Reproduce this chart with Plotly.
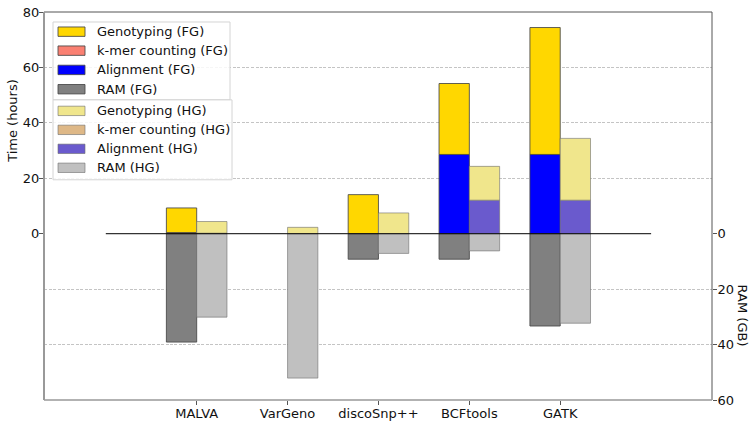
import plotly.graph_objects as go

# ---------------- data ----------------
tools = ["MALVA", "VarGeno", "discoSnp++", "BCFtools", "GATK"]
geno_fg = [8.9, 0, 14.1, 25.6, 45.8]
kmer_fg = [0.4, 0, 0, 0, 0]
align_fg = [0, 0, 0, 28.6, 28.6]
ram_fg = [39.1, 0, 9.2, 9.2, 33.3]
geno_hg = [4.2, 2.3, 7.5, 12.2, 22.3]
kmer_hg = [0.2, 0, 0, 0, 0]
align_hg = [0, 0, 0, 12.1, 12.1]
ram_hg = [30.1, 52.1, 7.1, 6.2, 32.3]

time_ticks = [0, 20, 40, 60, 80]
ram_ticks = [0, 20, 40, 60]

# ---------------- geometry helpers ----------------
W, H = 750, 422
PL, PR, PT, PB = 44, 712, 12, 400.5      # plot area in page pixels
L, T = PL, PT
R = W - PR
B = H - PB
def px(x): return (x - PL) / (PR - PL)
def py(y): return (PB - y) / (PB - PT)

FONT = "DejaVu Sans"
split = 60 / 140

fig = go.Figure()
idx = list(range(len(tools)))

def add_bar(vals, base, color, line, fg, yaxis):
    xs, ys, bs = [], [], []
    for i, v, b in zip(idx, vals, base):
        if v > 0:
            xs.append(i); ys.append(v); bs.append(b)
    fig.add_bar(x=xs, y=ys, base=bs, width=1/3, offset=(-1/3 if fg else 0),
                marker=dict(color=color, line=dict(color=line, width=1)),
                yaxis=yaxis, showlegend=False)

zero = [0] * len(tools)
FG_E = "rgba(70,70,70,0.85)"
HG_E = "rgba(110,110,110,0.6)"
# FG
add_bar(align_fg, zero, "#0000FF", FG_E, True, "y")
add_bar(kmer_fg, align_fg, "#FA8072", FG_E, True, "y")
add_bar(geno_fg, [a + k for a, k in zip(align_fg, kmer_fg)], "#FFD700", FG_E, True, "y")
add_bar(ram_fg, zero, "#808080", FG_E, True, "y2")
# HG
add_bar(align_hg, zero, "#6A5ACD", HG_E, False, "y")
add_bar(kmer_hg, align_hg, "#DEB887", HG_E, False, "y")
add_bar(geno_hg, [a + k for a, k in zip(align_hg, kmer_hg)], "#F0E68C", HG_E, False, "y")
add_bar(ram_hg, zero, "#C0C0C0", HG_E, False, "y2")

shapes = []
annotations = []
# frame (spines)
def spine(x0, y0, x1, y1, col, w):
    shapes.append(dict(type="line", xref="paper", yref="paper", x0=x0, x1=x1, y0=y0, y1=y1,
                       line=dict(color=col, width=w), layer="above"))
spine(0, 1, 1, 1, "#555", 1)
spine(1, 0, 1, 1, "#555", 1)
spine(0, 0, 1, 0, "#999", 1.5)
spine(0, 0, 0, 1, "#999", 2)
# zero line
shapes.append(dict(type="line", xref="x", yref="paper", x0=-1, x1=5, y0=split, y1=split,
                   line=dict(color="black", width=1), layer="above"))

legends = [
    ((53, 230, 22, 100), [
        ("Genotyping (FG)", "#FFD700", FG_E, 31.7),
        ("k-mer counting (FG)", "#FA8072", FG_E, 50.7),
        ("Alignment (FG)", "#0000FF", FG_E, 70.0),
        ("RAM (FG)", "#808080", FG_E, 89.3),
    ]),
    ((53, 232, 100, 180), [
        ("Genotyping (HG)", "#F0E68C", HG_E, 111.0),
        ("k-mer counting (HG)", "#DEB887", HG_E, 130.0),
        ("Alignment (HG)", "#6A5ACD", HG_E, 149.0),
        ("RAM (HG)", "#C0C0C0", HG_E, 168.0),
    ]),
]
for (x0, x1, y0, y1), items in legends:
    shapes.append(dict(type="rect", xref="paper", yref="paper",
                       x0=px(x0), x1=px(x1), y0=py(y1), y1=py(y0),
                       fillcolor="rgba(255,255,255,0.85)",
                       line=dict(color="#d4d4d4", width=1), layer="above"))
    for label, col, edge, yc in items:
        shapes.append(dict(type="rect", xref="paper", yref="paper",
                           x0=px(58), x1=px(85), y0=py(yc + 4.7), y1=py(yc - 4.7),
                           fillcolor=col, line=dict(color=edge, width=1), layer="above"))
        annotations.append(dict(xref="paper", yref="paper", x=px(95), y=py(yc),
                                xanchor="left", yanchor="middle", showarrow=False,
                                text=label, font=dict(family=FONT, size=13, color="#111")))

# axis titles
annotations.append(dict(xref="paper", yref="paper", x=px(13), y=py(121), text="Time (hours)",
                        textangle=-90, showarrow=False, xanchor="center", yanchor="middle",
                        font=dict(family=FONT, size=13, color="#111")))
annotations.append(dict(xref="paper", yref="paper", x=px(742.5), y=py(315.5), text="RAM (GB)",
                        textangle=90, showarrow=False, xanchor="center", yanchor="middle",
                        font=dict(family=FONT, size=13, color="#111")))

grid = dict(showgrid=True, gridcolor="#c4c4c4", griddash="3px,1.5px", gridwidth=1)
common = dict(ticks="outside", ticklen=4, tickcolor="#555", zeroline=False, showline=False,
              tickfont=dict(size=13, color="#111"), automargin=False,
              ticklabeloverflow="allow")
fig.update_layout(
    width=W, height=H,
    autosize=False,
    margin=dict(l=L, r=R, t=T, b=B, pad=0, autoexpand=False),
    plot_bgcolor="white", paper_bgcolor="white",
    barmode="overlay",
    font=dict(family=FONT, size=13, color="#111"),
    xaxis=dict(range=[-1.68, 5.67], tickvals=idx, ticktext=tools, anchor="y2",
               showgrid=False, ticklabelstandoff=-3, **common),
    yaxis=dict(domain=[split, 1], range=[0, 80], tickvals=time_ticks, anchor="x",
               side="left", ticklabelstandoff=-3, **common, **grid),
    yaxis2=dict(domain=[0, split], range=[60, 0], tickvals=ram_ticks, anchor="x",
                side="right", ticklabelstandoff=-2, **common, **grid),
    shapes=shapes,
    annotations=annotations,
)

fig.write_html("out.html", config={"displayModeBar": False},
               post_script="document.body.style.margin='0';document.body.style.overflow='hidden';")
